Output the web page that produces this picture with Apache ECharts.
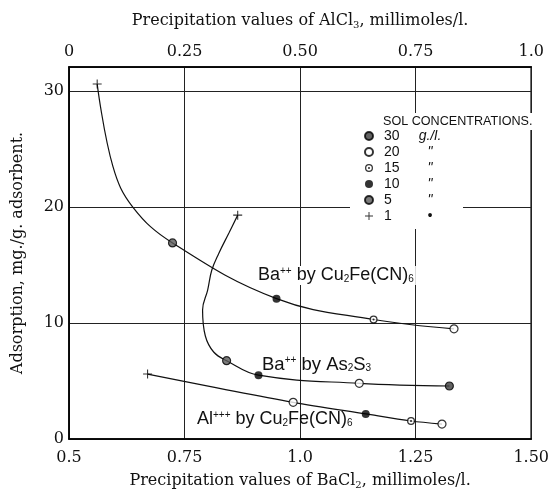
<!DOCTYPE html>
<html>
<head>
<meta charset="utf-8">
<script src="https://cdn.jsdelivr.net/npm/echarts/dist/echarts.min.js"></script>
<style>
  html, body { margin: 0; padding: 0; background: #fff; }
  #chart { width: 552px; height: 495px; }
</style>
</head>
<body>
<div id="chart"></div>
<script>
// ---- tick labels ----
const bottomTicks = [0.5, 0.75, 1.0, 1.25, 1.5];
const bottomTickLabels = ['0.5', '0.75', '1.0', '1.25', '1.50'];
const topTicks = [0, 0.25, 0.5, 0.75, 1.0];
const topTickLabels = ['0', '0.25', '0.50', '0.75', '1.0'];
const yTicks = [0, 10, 20, 30];

// ---- legend: sol concentrations (g./l.) ----
const concentrations = ['30', '20', '15', '10', '5', '1'];

// ---- Ba++ by Cu2Fe(CN)6  (BaCl2 axis) ----
const baCuX = [0.561, 0.724, 0.949, 1.159, 1.333];
const baCuY = [30.6, 16.9, 12.1, 10.3, 9.5];
const baCuConc = ['1', '5', '10', '15', '20'];
const baCuTraceX = [0.561, 0.595, 0.638, 0.724, 0.949, 1.159, 1.333];
const baCuTraceY = [30.6, 23.5, 20.0, 16.9, 12.1, 10.3, 9.5];

// ---- Ba++ by As2S3  (BaCl2 axis) ----
const baAsX = [0.865, 0.841, 0.910, 1.128, 1.323];
const baAsY = [19.3, 6.75, 5.5, 4.8, 4.57];
const baAsConc = ['1', '5', '10', '20', '30'];
const baAsTraceX = [0.865, 0.846, 0.824, 0.809, 0.800, 0.789, 0.795, 0.813, 0.841, 0.910, 1.128, 1.323];
const baAsTraceY = [19.3, 17.76, 16.0, 14.57, 12.84, 11.12, 8.88, 7.5, 6.75, 5.5, 4.8, 4.57];

// ---- Al+++ by Cu2Fe(CN)6  (AlCl3 axis) ----
const alCuX = [0.170, 0.485, 0.642, 0.740, 0.807];
const alCuY = [5.6, 3.16, 2.16, 1.55, 1.29];
const alCuConc = ['1', '20', '10', '15', '20'];

const serif = "'DejaVu Serif', serif";
const sans = "'Liberation Sans', 'DejaVu Sans', sans-serif";

const plusPath = 'path://M4.4,0h1.2v4.4h4.4v1.2h-4.4v4.4h-1.2v-4.4h-4.4v-1.2h4.4z';
const ringDotPath = 'path://M0,5A5,5 0 1,1 10,5A5,5 0 1,1 0,5Z' +
  'M1.6,5A3.4,3.4 0 1,0 8.4,5A3.4,3.4 0 1,0 1.6,5Z' +
  'M3.7,5A1.3,1.3 0 1,1 6.3,5A1.3,1.3 0 1,1 3.7,5Z';

const markStyle = {
  '30': { symbol: 'circle', size: 8, itemStyle: { color: '#3c3c3c', borderColor: '#000', borderWidth: 1.2 } },
  '20': { symbol: 'circle', size: 8, itemStyle: { color: '#fff', borderColor: '#000', borderWidth: 1.2 } },
  '15': { symbol: ringDotPath, size: 8, itemStyle: { color: '#000' } },
  '10': { symbol: 'circle', size: 8, itemStyle: { color: '#000' } },
  '5':  { symbol: 'circle', size: 8, itemStyle: { color: '#5a5a5a', borderColor: '#000', borderWidth: 1.2 } },
  '1':  { symbol: plusPath, size: 9, itemStyle: { color: '#000' } }
};

function pairs(xs, ys) { return xs.map((x, i) => [x, ys[i]]); }

const curves = [
  { x: baCuX, y: baCuY, c: baCuConc, tx: baCuTraceX, ty: baCuTraceY, axis: 0, smooth: 0.4 },
  { x: baAsX, y: baAsY, c: baAsConc, tx: baAsTraceX, ty: baAsTraceY, axis: 0, smooth: 0.4 },
  { x: alCuX, y: alCuY, c: alCuConc, tx: alCuX, ty: alCuY, axis: 1, smooth: 0.3 }
];

const series = [];
curves.forEach(cv => {
  series.push({
    type: 'line', xAxisIndex: cv.axis, data: pairs(cv.tx, cv.ty),
    smooth: cv.smooth, showSymbol: false, silent: true,
    lineStyle: { color: '#111', width: 1.2 }, z: 2
  });
});
// white underlay for the ring marker so lines do not show through
[0, 1].forEach(ax => {
  const d = [];
  curves.filter(cv => cv.axis === ax).forEach(cv => cv.x.forEach((x, i) => { if (cv.c[i] === '15') d.push([x, cv.y[i]]); }));
  if (d.length) series.push({ name: '_under15', type: 'scatter', xAxisIndex: ax, data: d, symbol: 'circle', symbolSize: 7, itemStyle: { color: '#fff' }, silent: true, z: 3 });
});
concentrations.forEach(conc => {
  [0, 1].forEach(ax => {
    const d = [];
    curves.filter(cv => cv.axis === ax).forEach(cv => cv.x.forEach((x, i) => { if (cv.c[i] === conc) d.push([x, cv.y[i]]); }));
    const st = markStyle[conc];
    series.push({
      name: conc, type: 'scatter', xAxisIndex: ax, data: d,
      symbol: st.symbol, symbolSize: st.size, itemStyle: st.itemStyle, silent: true, z: 4
    });
  });
});

function tickFmt(ticks, labels) {
  return v => { const i = ticks.findIndex(t => Math.abs(t - v) < 1e-6); return i >= 0 ? labels[i] : ''; };
}

const labelFont = "18px 'Liberation Sans', sans-serif";
const labelRich = {
  p: { fontSize: 10, padding: [0, 0, 9, 0], fill: '#111' },
  b: { fontSize: 10, padding: [7, 0, 0, 0], fill: '#111' }
};

const chart = echarts.init(document.getElementById('chart'), null, { renderer: 'canvas' });
chart.setOption({
  animation: false,
  backgroundColor: '#fff',
  grid: { left: 69, right: 17, top: 67, bottom: 56, show: true, borderColor: '#000', borderWidth: 1.5 },
  xAxis: [
    {
      type: 'value', position: 'bottom', min: 0.5, max: 1.5, interval: 0.25,
      axisLine: { show: true, lineStyle: { color: '#000', width: 1.5 } },
      axisTick: { show: false },
      splitLine: { show: true, lineStyle: { color: '#222', width: 1 } },
      axisLabel: { formatter: tickFmt(bottomTicks, bottomTickLabels), fontFamily: serif, fontSize: 16, color: '#111', margin: 11 },
      name: 'Precipitation values of BaCl{s|2}, millimoles/l.',
      nameLocation: 'middle', nameGap: 33,
      nameTextStyle: { fontFamily: serif, fontSize: 16, color: '#111',
        rich: { s: { fontFamily: serif, fontSize: 10, color: '#111', padding: [8, 0, 0, 0] } } }
    },
    {
      type: 'value', position: 'top', min: 0, max: 1, interval: 0.25,
      axisLine: { show: true, lineStyle: { color: '#000', width: 1.5 } },
      axisTick: { show: false },
      splitLine: { show: false },
      axisLabel: { formatter: tickFmt(topTicks, topTickLabels), fontFamily: serif, fontSize: 16, color: '#111', margin: 7 },
      name: 'Precipitation values of AlCl{s|3}, millimoles/l.',
      nameLocation: 'middle', nameGap: 37,
      nameTextStyle: { fontFamily: serif, fontSize: 16, color: '#111',
        rich: { s: { fontFamily: serif, fontSize: 10, color: '#111', padding: [8, 0, 0, 0] } } }
    }
  ],
  yAxis: {
    type: 'value', min: 0, max: 32.07, interval: 10,
    axisLine: { show: true, lineStyle: { color: '#000', width: 1.5 } },
    axisTick: { show: false },
    splitLine: { show: true, lineStyle: { color: '#222', width: 1 } },
    axisLabel: { formatter: v => yTicks.includes(v) ? String(v) : '', fontFamily: serif, fontSize: 16, color: '#111', margin: 5 },
    name: 'Adsorption, mg./g. adsorbent.',
    nameLocation: 'middle', nameGap: 43,
    nameTextStyle: { fontFamily: serif, fontSize: 16, color: '#111' }
  },
  legend: {
    data: concentrations,
    orient: 'vertical', left: 350, top: 124,
    padding: [5, 15, 6, 14],
    backgroundColor: '#fff',
    itemWidth: 8, itemHeight: 8, itemGap: 2,
    selectedMode: false,
    formatter: name => '{n|' + name + '}{u|' + (name === '30' ? 'g./l.' : (name === '1' ? '•' : '"')) + '}',
    textStyle: {
      fontFamily: sans, fontSize: 13, color: '#111',
      rich: {
        n: { fontFamily: sans, fontSize: 14, width: 28, padding: [0, 0, 0, 6], lineHeight: 13, color: '#111' },
        u: { fontFamily: sans, fontSize: 14, fontStyle: 'italic', width: 36, align: 'center', lineHeight: 13, color: '#111' }
      }
    }
  },
  graphic: [
    { type: 'text', left: 382, top: 113, z: 100,
      style: { text: 'SOL CONCENTRATIONS.', font: "12.6px 'Liberation Sans', sans-serif", fill: '#111', backgroundColor: '#fff', padding: [2, 1] } },
    { type: 'text', left: 256, top: 266, z: 100,
      style: { text: 'Ba{p|++} by Cu{b|2}Fe(CN){b|6}', font: labelFont, fill: '#111', backgroundColor: '#fff', padding: [0, 2], rich: labelRich } },
    { type: 'text', left: 262, top: 355, z: 100,
      style: { text: 'Ba{p|++} by As{b|2}S{b|3}', font: "18.5px 'Liberation Sans', sans-serif", fill: '#111', rich: labelRich } },
    { type: 'text', left: 197, top: 410, z: 100,
      style: { text: 'Al{p|+++} by Cu{b|2}Fe(CN){b|6}', font: labelFont, fill: '#111', rich: labelRich } }
  ],
  series: series
});
</script>
</body>
</html>
